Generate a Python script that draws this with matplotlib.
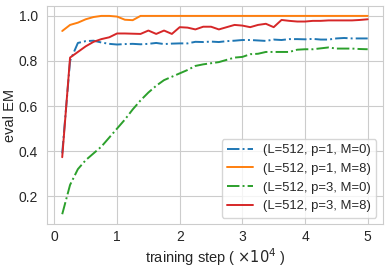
import numpy as np
import seaborn as sns
from matplotlib import pyplot as plt

# Training steps (x 10^4), evaluated every 1250 steps.
steps = [0.125 * (i + 1) for i in range(40)]

em_p1_m0 = [0.39, 0.80, 0.88, 0.888, 0.89, 0.882, 0.876, 0.873, 0.875, 0.876,
            0.874, 0.876, 0.880, 0.875, 0.877, 0.878, 0.878, 0.885, 0.884, 0.886,
            0.884, 0.888, 0.890, 0.893, 0.893, 0.891, 0.889, 0.895, 0.893, 0.897,
            0.897, 0.896, 0.898, 0.895, 0.895, 0.900, 0.902, 0.900, 0.900, 0.900]
em_p1_m8 = [0.933, 0.960, 0.970, 0.985, 0.995, 1.0, 1.0, 0.997, 0.983, 0.981,
            1.0, 1.0, 1.0, 1.0, 1.0, 1.0, 1.0, 1.0, 1.0, 1.0,
            1.0, 1.0, 1.0, 1.0, 1.0, 1.0, 1.0, 1.0, 1.0, 1.0,
            1.0, 1.0, 1.0, 1.0, 1.0, 1.0, 1.0, 1.0, 1.0, 1.0]
em_p3_m0 = [0.12, 0.25, 0.32, 0.36, 0.39, 0.42, 0.46, 0.50, 0.54, 0.585,
            0.625, 0.66, 0.69, 0.715, 0.73, 0.745, 0.76, 0.778, 0.785, 0.79,
            0.795, 0.805, 0.815, 0.818, 0.830, 0.832, 0.840, 0.840, 0.840, 0.840,
            0.850, 0.852, 0.852, 0.856, 0.860, 0.855, 0.855, 0.855, 0.853, 0.852]
em_p3_m8 = [0.373, 0.815, 0.84, 0.865, 0.885, 0.897, 0.905, 0.922, 0.922, 0.921,
            0.920, 0.935, 0.920, 0.935, 0.920, 0.950, 0.948, 0.940, 0.952, 0.952,
            0.940, 0.950, 0.960, 0.957, 0.950, 0.960, 0.965, 0.950, 0.982, 0.978,
            0.975, 0.975, 0.978, 0.978, 0.980, 0.980, 0.980, 0.980, 0.982, 0.985]

sns.set_style('whitegrid')
plt.rcParams['font.family'] = ['Liberation Sans', 'DejaVu Sans']

fig, ax = plt.subplots(figsize=(3.88, 2.72), dpi=100)
fig.subplots_adjust(left=0.121, right=0.987, top=0.978, bottom=0.176)

ax.plot(steps, em_p1_m0, '-.', c='tab:blue', lw=1.4, label='(L=512, p=1, M=0)')
ax.plot(steps, em_p1_m8, '-', c='tab:orange', lw=1.4, label='(L=512, p=1, M=8)')
ax.plot(steps, em_p3_m0, '-.', c='tab:green', lw=1.4, label='(L=512, p=3, M=0)')
ax.plot(steps, em_p3_m8, '-', c='tab:red', lw=1.4, label='(L=512, p=3, M=8)')

ax.set_xticks([0, 1, 2, 3, 4, 5])
ax.set_yticks([0.2, 0.4, 0.6, 0.8, 1.0])
ax.tick_params(labelsize=10)
ax.tick_params(axis='x', pad=1)
ax.tick_params(axis='y', pad=3)
ax.set_xlabel(r'training step ( $\times 10^4$ )', fontsize=10.5)
ax.set_ylabel('eval EM', fontsize=10.5)
ax.xaxis.set_label_coords(0.5, -0.1)
ax.yaxis.set_label_coords(-0.088, 0.5)
ax.legend(loc='lower right', fontsize=9.4, frameon=True)

fig.savefig('out.png', dpi=100)
